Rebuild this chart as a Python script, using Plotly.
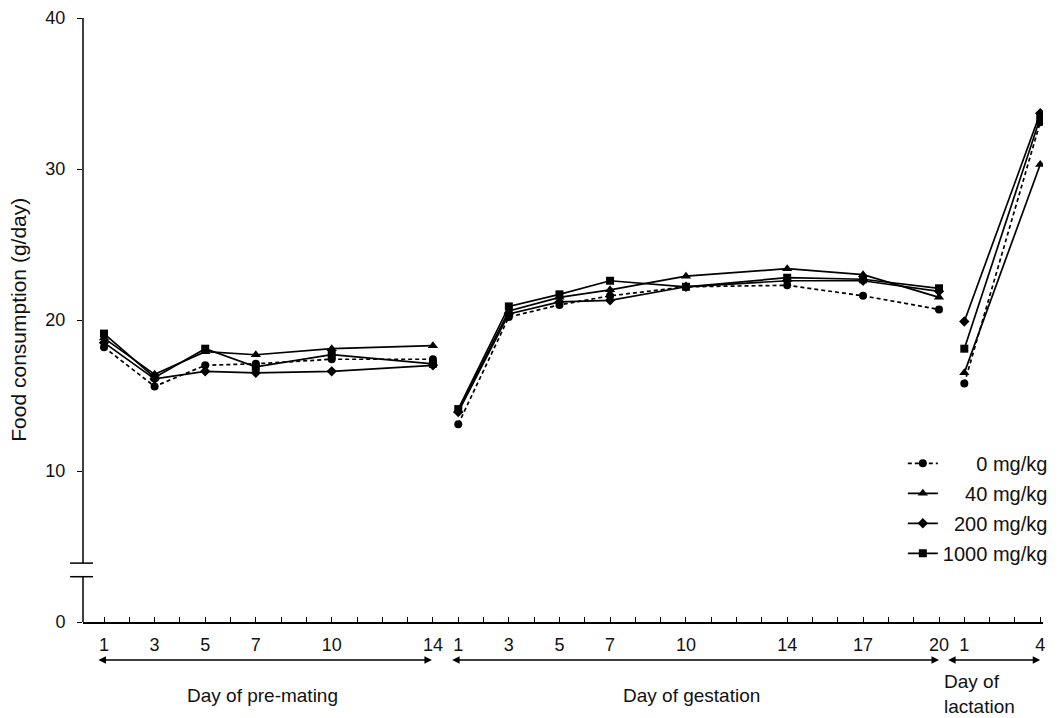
import plotly.graph_objects as go

# ---- data ----
prem_days = [1, 3, 5, 7, 10, 14]
gest_days = [1, 3, 5, 7, 10, 14, 17, 20]
lact_days = [1, 4]

prem_labels = ["1", "3", "5", "7", "10", "14"]
gest_labels = ["1", "3", "5", "7", "10", "14", "17", "20"]
lact_labels = ["1", "4"]

series_names = ["0 mg/kg", "40 mg/kg", "200 mg/kg", "1000 mg/kg"]

prem_0 = [18.2, 15.6, 17.0, 17.1, 17.4, 17.4]
gest_0 = [13.1, 20.2, 21.0, 21.6, 22.2, 22.3, 21.6, 20.7]
lact_0 = [15.8, 33.1]

prem_40 = [18.8, 16.4, 17.9, 17.7, 18.1, 18.3]
gest_40 = [14.0, 20.6, 21.5, 22.0, 22.9, 23.4, 23.0, 21.5]
lact_40 = [16.5, 30.3]

prem_200 = [18.5, 16.1, 16.6, 16.5, 16.6, 17.0]
gest_200 = [13.9, 20.4, 21.2, 21.3, 22.2, 22.6, 22.6, 21.9]
lact_200 = [19.9, 33.7]

prem_1000 = [19.1, 16.2, 18.1, 16.9, 17.7, 17.1]
gest_1000 = [14.1, 20.9, 21.7, 22.6, 22.2, 22.8, 22.7, 22.1]
lact_1000 = [18.1, 33.4]

# phase offsets on the shared day axis
OFF_PREM, OFF_GEST, OFF_LACT = 0, 14, 34

FONT = "Liberation Sans, Arial, sans-serif"
TXT = "#111"


def build_xy(p, g, l):
    xs = [OFF_PREM + d for d in prem_days] + [None] + \
         [OFF_GEST + d for d in gest_days] + [None] + \
         [OFF_LACT + d for d in lact_days]
    ys = list(p) + [None] + list(g) + [None] + list(l)
    return xs, ys


styles = [
    dict(symbol="circle", size=8, dash="4px,3px"),
    dict(symbol="triangle-up", size=9, dash="solid"),
    dict(symbol="diamond", size=8, dash="solid"),
    dict(symbol="square", size=8, dash="solid"),
]
data_sets = [(prem_0, gest_0, lact_0), (prem_40, gest_40, lact_40),
             (prem_200, gest_200, lact_200), (prem_1000, gest_1000, lact_1000)]
# right-align legend labels using figure spaces
pad = ["\u2007\u2007\u2007", "\u2007\u2007", "\u2007", ""]

fig = go.Figure()
for i, (name, st, ds) in enumerate(zip(series_names, styles, data_sets)):
    xs, ys = build_xy(*ds)
    fig.add_trace(go.Scatter(
        x=xs, y=ys, mode="lines+markers", name=pad[i] + name,
        legendgroup=str(i), connectgaps=False,
        line=dict(color="black", width=1.7, dash=st["dash"]),
        marker=dict(symbol=st["symbol"], size=st["size"], color="black"),
    ))

tickvals = [OFF_PREM + d for d in prem_days] + [OFF_GEST + d for d in gest_days] + \
           [OFF_LACT + d for d in lact_days]
ticktext = prem_labels + gest_labels + lact_labels

fig.update_layout(
    width=1059, height=718,
    margin=dict(l=83, r=16, t=18, b=96, autoexpand=False),
    paper_bgcolor="white", plot_bgcolor="white",
    font=dict(family=FONT, size=18, color=TXT),
    showlegend=True,
    legend=dict(x=0.854, y=0.295, xanchor="left", yanchor="top",
                bgcolor="rgba(0,0,0,0)", tracegroupgap=1,
                font=dict(size=20, family=FONT, color=TXT)),
    xaxis=dict(range=[0.17, 38.11], showgrid=False, zeroline=False,
               showline=True, linecolor="black", linewidth=1.5,
               tickmode="array", tickvals=tickvals, ticktext=ticktext,
               ticks="inside", ticklen=5, tickcolor="black",
               ticklabelstandoff=6,
               minor=dict(tickmode="linear", tick0=0, dtick=1, ticks="inside",
                          ticklen=5, tickcolor="black"),
               tickfont=dict(size=18, family=FONT, color=TXT)),
    yaxis=dict(range=[0, 40], showgrid=False, zeroline=False, showline=False,
               tickmode="array", tickvals=[0, 10, 20, 30, 40],
               ticks="outside", ticklen=5, tickcolor="black",
               ticklabelstandoff=8,
               tickfont=dict(size=18, family=FONT, color=TXT)),
)

# broken y-axis line
fig.add_shape(type="line", xref="paper", yref="y", x0=0, x1=0, y0=0, y1=3.0,
              line=dict(color="black", width=1.5))
fig.add_shape(type="line", xref="paper", yref="y", x0=0, x1=0, y0=3.9, y1=40,
              line=dict(color="black", width=1.5))
for yb in (3.0, 3.9):
    fig.add_shape(type="line", xref="paper", yref="y", x0=-0.0135, x1=0.0104,
                  y0=yb, y1=yb, line=dict(color="black", width=1.5))

# y-axis title
fig.add_annotation(text="Food consumption (g/day)", xref="paper", yref="paper",
                   x=-0.068, y=0.5, xanchor="center", yanchor="middle",
                   textangle=-90, showarrow=False,
                   font=dict(size=21, family=FONT, color=TXT))

# phase arrows (below the x axis)
for x0, x1 in [(0.72, 13.96), (14.7, 34.0), (34.3, 38.0)]:
    fig.add_annotation(x=x1, y=-0.063, xref="x", yref="paper",
                       ax=x0, ay=0, axref="x", ayref="pixel",
                       text="", showarrow=True, arrowside="end+start",
                       arrowhead=2, arrowsize=1, arrowwidth=1.5,
                       arrowcolor="black")

fig.add_annotation(text="Day of pre-mating", x=7.25, y=-0.121, xref="x", yref="paper",
                   xanchor="center", yanchor="middle", showarrow=False,
                   font=dict(size=19, family=FONT, color=TXT))
fig.add_annotation(text="Day of gestation", x=24.2, y=-0.121, xref="x", yref="paper",
                   xanchor="center", yanchor="middle", showarrow=False,
                   font=dict(size=19, family=FONT, color=TXT))
fig.add_annotation(text="Day of<br>lactation", x=35.6, y=-0.12, xref="x", yref="paper",
                   xanchor="center", yanchor="middle", showarrow=False, align="left",
                   font=dict(size=19, family=FONT, color=TXT))

fig.write_html("out.html", config={"displayModeBar": False},
               post_script="document.body.style.margin='0';document.body.style.padding='0';")
